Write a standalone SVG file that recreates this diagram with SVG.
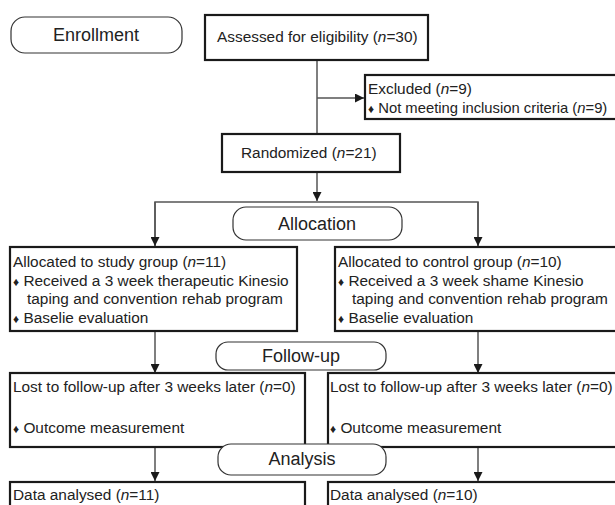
<svg xmlns="http://www.w3.org/2000/svg" width="615" height="505" viewBox="0 0 615 505">
<defs>
<marker id="arr" viewBox="0 0 10 10" refX="10" refY="5" markerWidth="9" markerHeight="9" markerUnits="userSpaceOnUse" orient="auto">
<path d="M0,0 L10,5 L0,10 z" fill="#1a1a1a"/>
</marker>
<style>
text{font-family:"Liberation Sans",Arial,sans-serif;fill:#222;}
.t{font-size:15.4px;}
.s{font-size:14.8px;}
.h{font-size:18px;text-anchor:middle;}
.box{fill:#fff;stroke:#1a1a1a;stroke-width:2.2;}
.pill{fill:#fff;stroke:#333;stroke-width:1.2;}
.c{fill:none;stroke:#555;stroke-width:1.5;}
.b{font-size:12px;}
.i{font-style:italic;}
</style>
</defs>
<rect width="615" height="505" fill="#fff"/>
<g id="connectors">
<path class="c" d="M317,60 V134"/>
<path class="c" d="M317,98 H364" marker-end="url(#arr)"/>
<path class="c" d="M317,172 V201" marker-end="url(#arr)"/>
<path class="c" d="M155,246 V202 H478 V246"/>
<path class="c" d="M155,202 V246" marker-end="url(#arr)"/>
<path class="c" d="M478,202 V246" marker-end="url(#arr)"/>
<path class="c" d="M155,331 V373" marker-end="url(#arr)"/>
<path class="c" d="M478,331 V373" marker-end="url(#arr)"/>
<path class="c" d="M155,447 V481" marker-end="url(#arr)"/>
<path class="c" d="M478,447 V481" marker-end="url(#arr)"/>
</g>
<g id="enrollment">
<rect class="pill" x="11" y="17" width="171" height="36" rx="14"/>
<text class="h" x="96" y="41">Enrollment</text>
</g>
<g id="assessed">
<rect class="box" x="205" y="15" width="223" height="45"/>
<text class="t" x="217" y="42">Assessed for eligibility (<tspan class="i">n</tspan>=30)</text>
</g>
<g id="excluded">
<rect class="box" x="365" y="75" width="260" height="44"/>
<text class="t" x="368" y="94">Excluded (<tspan class="i">n</tspan>=9)</text>
<text class="s" x="368" y="113"><tspan class="b">♦</tspan> Not meeting inclusion criteria (<tspan class="i">n</tspan>=9)</text>
</g>
<g id="randomized">
<rect class="box" x="222" y="134" width="178" height="38"/>
<text class="t" x="241" y="158">Randomized (<tspan class="i">n</tspan>=21)</text>
</g>
<g id="allocation">
<rect class="pill" x="233" y="207" width="169" height="33" rx="13"/>
<text class="h" x="317" y="230">Allocation</text>
</g>
<g id="study">
<rect class="box" x="10" y="247" width="287" height="84"/>
<text class="t" x="13" y="267">Allocated to study group (<tspan class="i">n</tspan>=11)</text>
<text class="t" x="13" y="286"><tspan class="b">♦</tspan> Received a 3 week therapeutic Kinesio</text>
<text class="t" x="27" y="304">taping and convention rehab program</text>
<text class="t" x="13" y="323"><tspan class="b">♦</tspan> Baselie evaluation</text>
</g>
<g id="control">
<rect class="box" x="335" y="247" width="290" height="84"/>
<text class="t" x="338" y="267">Allocated to control group (<tspan class="i">n</tspan>=10)</text>
<text class="t" x="338" y="286"><tspan class="b">♦</tspan> Received a 3 week shame Kinesio</text>
<text class="t" x="352" y="304">taping and convention rehab program</text>
<text class="t" x="338" y="323"><tspan class="b">♦</tspan> Baselie evaluation</text>
</g>
<g id="followup">
<rect class="pill" x="216" y="342" width="170" height="28" rx="12"/>
<text class="h" x="301" y="362">Follow-up</text>
</g>
<g id="lost-study">
<rect class="box" x="10" y="373" width="295" height="74"/>
<text class="t" x="13" y="392">Lost to follow-up after 3 weeks later (<tspan class="i">n</tspan>=0)</text>
<text class="t" x="13" y="433"><tspan class="b">♦</tspan> Outcome measurement</text>
</g>
<g id="lost-control">
<rect class="box" x="328" y="373" width="297" height="74"/>
<text class="t" x="330" y="392">Lost to follow-up after 3 weeks later (<tspan class="i">n</tspan>=0)</text>
<text class="t" x="330" y="433"><tspan class="b">♦</tspan> Outcome measurement</text>
</g>
<g id="analysis">
<rect class="pill" x="218" y="444" width="168" height="31" rx="13"/>
<text class="h" x="302" y="465">Analysis</text>
</g>
<g id="data-study">
<rect class="box" x="10" y="482" width="295" height="40"/>
<text class="t" x="13" y="500">Data analysed (<tspan class="i">n</tspan>=11)</text>
</g>
<g id="data-control">
<rect class="box" x="328" y="482" width="297" height="40"/>
<text class="t" x="330" y="500">Data analysed (<tspan class="i">n</tspan>=10)</text>
</g>
</svg>
